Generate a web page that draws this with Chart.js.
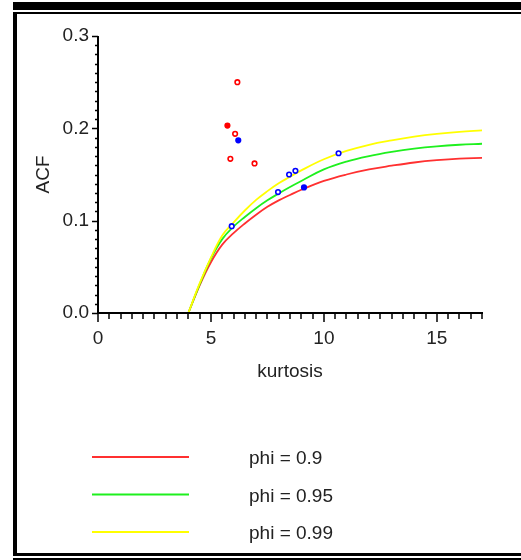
<!DOCTYPE html>
<html>
<head>
<meta charset="utf-8">
<style>
  html, body { margin: 0; padding: 0; background: #fff; }
  #wrap { position: relative; width: 521px; height: 560px; }
</style>
<script src="https://cdn.jsdelivr.net/npm/chart.js@4.4.1/dist/chart.umd.min.js"></script>
</head>
<body>
<div id="wrap"><canvas id="c" width="521" height="560"></canvas></div>
<script>
// Theoretical ACF curves against kurtosis for three persistence values
const kurtosisGrid = [4, 4.5, 5, 5.5, 6, 6.5, 7, 7.5, 8, 8.5, 9, 10, 11, 12, 13, 14, 15, 16, 17];
const acfPhi090 = [0, 0.030, 0.055, 0.074, 0.0865, 0.097, 0.1065, 0.115, 0.122, 0.1278, 0.1335, 0.143, 0.150, 0.1555, 0.1595, 0.163, 0.1655, 0.1672, 0.168];
const acfPhi095 = [0, 0.031, 0.059, 0.080, 0.0935, 0.104, 0.1135, 0.122, 0.1295, 0.1365, 0.143, 0.1555, 0.164, 0.170, 0.1745, 0.178, 0.1805, 0.1822, 0.1833];
const acfPhi099 = [0, 0.032, 0.060, 0.084, 0.098, 0.111, 0.1225, 0.132, 0.1405, 0.1475, 0.1545, 0.1665, 0.1755, 0.1822, 0.187, 0.191, 0.194, 0.1962, 0.1977];
const seriesLabels = ['phi = 0.9', 'phi = 0.95', 'phi = 0.99'];

// Sample estimates (two groups)
const redKurtosis = [6.17, 5.73, 6.07, 5.86, 6.93];
const redAcf      = [0.250, 0.203, 0.194, 0.167, 0.162];
const blueKurtosis = [6.21, 10.65, 8.74, 8.46, 7.97, 9.12, 5.92];
const blueAcf      = [0.187, 0.173, 0.154, 0.150, 0.131, 0.136, 0.094];

// Axis labels
const xTickValues = [0, 5, 10, 15];
const yTickValues = [0.0, 0.1, 0.2, 0.3];
const xTitle = 'kurtosis';
const yTitle = 'ACF';

const lineColors = ['#ff3030', '#1ef01e', '#ffff00'];
const redFilled = [1];
const blueFilled = [0, 5];

const toXY = (xs, ys) => xs.map((x, i) => ({ x: x, y: ys[i] }));

Chart.defaults.font.family = '"Liberation Sans", Arial, sans-serif';
Chart.defaults.font.size = 19;
Chart.defaults.color = '#222';

const framePlugin = {
  id: 'frame',
  beforeDraw(chart) {
    const ctx = chart.ctx;
    ctx.save();
    ctx.fillStyle = '#fff';
    ctx.fillRect(0, 0, chart.width, chart.height);
    ctx.restore();
  },
  afterDraw(chart) {
    const ctx = chart.ctx;
    ctx.save();
    ctx.fillStyle = '#000';
    ctx.fillRect(13, 2, 508, 8);
    ctx.fillRect(13, 12, 508, 2);
    ctx.fillRect(13, 12, 4, 544);
    ctx.fillRect(13, 553, 508, 3);
    ctx.fillRect(13, 558, 508, 2);
    ctx.restore();
  }
};

const axesPlugin = {
  id: 'axesTicks',
  afterDatasetsDraw(chart) {
    const ctx = chart.ctx;
    const xs = chart.scales.x, ys = chart.scales.y;
    const xa = Math.round(xs.getPixelForValue(0));
    const xb = Math.round(xs.getPixelForValue(17));
    const ya = Math.round(ys.getPixelForValue(0));
    const yb = Math.round(ys.getPixelForValue(0.3));
    ctx.save();
    ctx.strokeStyle = '#000';
    ctx.lineWidth = 2;
    ctx.beginPath();
    ctx.moveTo(xa, yb); ctx.lineTo(xa, ya);
    ctx.moveTo(xa, ya); ctx.lineTo(xb + 1, ya);
    ctx.stroke();
    ctx.lineWidth = 1.5;
    ctx.beginPath();
    for (let i = 0; i <= 34; i++) {
      const px = Math.round(xs.getPixelForValue(i * 0.5));
      const len = (i % 10 === 0) ? 9 : 6;
      ctx.moveTo(px, ya); ctx.lineTo(px, ya + len);
    }
    for (let i = 0; i <= 30; i++) {
      const py = Math.round(ys.getPixelForValue(i / 100)) + 0.5;
      const len = (i % 10 === 0) ? 6 : 3;
      ctx.moveTo(xa, py); ctx.lineTo(xa - len, py);
    }
    ctx.stroke();
    ctx.restore();
  }
};

const legendPlugin = {
  id: 'sideLegend',
  afterDraw(chart) {
    const ctx = chart.ctx;
    ctx.save();
    ctx.font = '19px "Liberation Sans", Arial, sans-serif';
    ctx.fillStyle = '#222';
    ctx.textBaseline = 'middle';
    ctx.textAlign = 'left';
    chart.data.datasets.filter(d => d.isCurve).forEach((d, i) => {
      const y = 457 + i * 37.5;
      ctx.strokeStyle = d.borderColor;
      ctx.lineWidth = 2;
      ctx.beginPath();
      ctx.moveTo(92, y); ctx.lineTo(189, y);
      ctx.stroke();
      ctx.fillText(d.label, 249, y + 2);
    });
    ctx.restore();
  }
};

const curveSet = (label, values, color, order) => ({
  type: 'line',
  label: label,
  isCurve: true,
  data: toXY(kurtosisGrid, values),
  borderColor: color,
  borderWidth: 1.8,
  pointRadius: 0,
  fill: false,
  tension: 0.4,
  order: order
});

new Chart(document.getElementById('c'), {
  type: 'scatter',
  data: {
    datasets: [
      curveSet(seriesLabels[0], acfPhi090, lineColors[0], 3),
      curveSet(seriesLabels[1], acfPhi095, lineColors[1], 2),
      curveSet(seriesLabels[2], acfPhi099, lineColors[2], 1),
      {
        label: 'red group',
        data: toXY(redKurtosis, redAcf),
        borderColor: '#ff0000',
        backgroundColor: c => redFilled.includes(c.dataIndex) ? '#ff0000' : '#ffffff',
        pointRadius: 2.3,
        borderWidth: 1.6,
        order: 0
      },
      {
        label: 'blue group',
        data: toXY(blueKurtosis, blueAcf),
        borderColor: '#0000ff',
        backgroundColor: c => blueFilled.includes(c.dataIndex) ? '#0000ff' : '#ffffff',
        pointRadius: 2.3,
        borderWidth: 1.6,
        order: 0
      }
    ]
  },
  options: {
    responsive: false,
    animation: false,
    events: [],
    layout: { padding: { left: 28, right: 39, top: 36, bottom: 173 } },
    plugins: { legend: { display: false }, tooltip: { enabled: false } },
    scales: {
      x: {
        type: 'linear',
        min: 0, max: 17,
        grid: { display: false, drawTicks: false },
        border: { display: false },
        afterBuildTicks: s => { s.ticks = xTickValues.map(v => ({ value: v })); },
        afterFit: s => { s.height = 74; },
        ticks: { padding: 14, maxRotation: 0, callback: v => String(v) },
        title: { display: true, text: xTitle, padding: { top: 4, bottom: 4 } }
      },
      y: {
        type: 'linear',
        min: 0, max: 0.3,
        grid: { display: false, drawTicks: false },
        border: { display: false },
        afterBuildTicks: s => { s.ticks = yTickValues.map(v => ({ value: v })); },
        afterFit: s => { s.width = 70; },
        ticks: { padding: 9, callback: v => Number(v).toFixed(1) },
        title: { display: true, text: yTitle, padding: { top: 4, bottom: 4 } }
      }
    }
  },
  plugins: [framePlugin, axesPlugin, legendPlugin]
});
</script>
</body>
</html>
